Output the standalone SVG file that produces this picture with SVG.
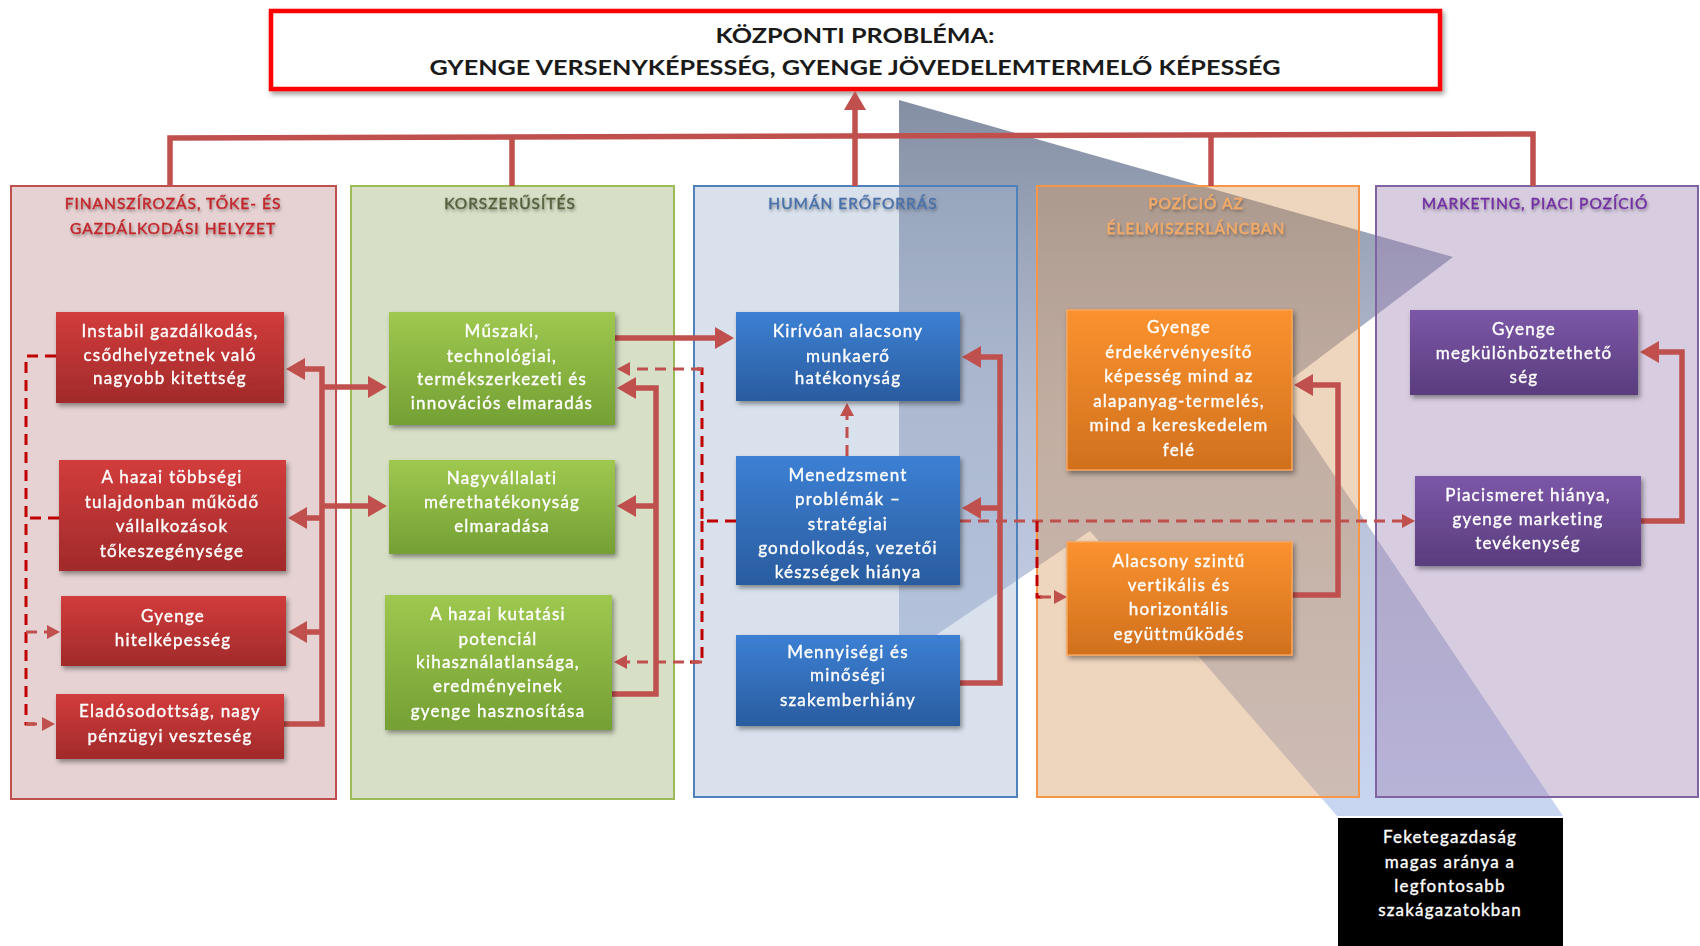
<svg xmlns="http://www.w3.org/2000/svg" width="1700" height="946" viewBox="0 0 1700 946">
<style>
.pan{stroke-width:2;fill-opacity:0.4}
.tt{font-family:Lato,"Liberation Sans",sans-serif;font-size:15.5px;text-anchor:middle;letter-spacing:1px;stroke-width:0.45px}
.nt{font-family:Lato,"Liberation Sans",sans-serif;font-size:17px;fill:#fff;stroke:#fff;stroke-width:0.35px;text-anchor:middle;letter-spacing:1.2px}
.c{fill:none;stroke:#c0504d;stroke-width:5.5;stroke-linejoin:miter}
.ca{fill:none;stroke:#c0504d;stroke-width:5.5;marker-end:url(#ah)}
.d{fill:none;stroke:#c0504d;stroke-width:3;stroke-dasharray:11 7}
.dd{fill:none;stroke:#c00000;stroke-width:3;stroke-dasharray:11 7}
.da{marker-end:url(#ahd)}
</style>
<defs>
<marker id="ah" markerUnits="userSpaceOnUse" markerWidth="20" markerHeight="22" refX="0" refY="11" orient="auto"><path d="M0,0 L19,11 L0,22 z" fill="#c0504d"/></marker>
<marker id="ahd" markerUnits="userSpaceOnUse" markerWidth="14" markerHeight="14" refX="0" refY="7" orient="auto"><path d="M0,0 L13,7 L0,14 z" fill="#c0504d"/></marker>
<linearGradient id="gR" x1="0" y1="0" x2="0" y2="1"><stop offset="0" stop-color="#d23c3c"/><stop offset="1" stop-color="#a12a2a"/></linearGradient>
<linearGradient id="gG" x1="0" y1="0" x2="0" y2="1"><stop offset="0" stop-color="#9ec84f"/><stop offset="1" stop-color="#74a034"/></linearGradient>
<linearGradient id="gB" x1="0" y1="0" x2="0" y2="1"><stop offset="0" stop-color="#3c80d4"/><stop offset="1" stop-color="#2a5c9f"/></linearGradient>
<linearGradient id="gO" x1="0" y1="0" x2="0" y2="1"><stop offset="0" stop-color="#fb922f"/><stop offset="1" stop-color="#d0701e"/></linearGradient>
<linearGradient id="gP" x1="0" y1="0" x2="0" y2="1"><stop offset="0" stop-color="#7c57a8"/><stop offset="1" stop-color="#5a3c7d"/></linearGradient>
<linearGradient id="gS" gradientUnits="userSpaceOnUse" x1="0" y1="100" x2="0" y2="816"><stop offset="0" stop-color="#4a5a78" stop-opacity="0.68"/><stop offset="0.45" stop-color="#7a88ac" stop-opacity="0.55"/><stop offset="1" stop-color="#9db5e8" stop-opacity="0.55"/></linearGradient>
<filter id="ts" x="-10%" y="-50%" width="120%" height="200%"><feDropShadow dx="1" dy="2" stdDeviation="1.5" flood-color="#000" flood-opacity="0.35"/></filter>
<filter id="ns" x="-10%" y="-10%" width="125%" height="135%"><feDropShadow dx="2" dy="3" stdDeviation="2.5" flood-color="#000" flood-opacity="0.4"/></filter>
</defs>
<rect width="1700" height="946" fill="#fff"/>

<polygon id="shade" points="899,100 1453,257 1277,390 1563,816 1337,816 1090,531 899,660" fill="url(#gS)"/>

<g id="panels">
<rect class="pan" x="11" y="186" width="325" height="613" fill="#c08e8e" stroke="#c0504d"/>
<rect class="pan" x="351" y="186" width="323" height="613" fill="#9bb170" stroke="#9bbb59"/>
<rect class="pan" x="694" y="186" width="323" height="611" fill="#a0b4cf" stroke="#4f81bd"/>
<rect class="pan" x="1037" y="186" width="322" height="611" fill="#d4965a" stroke="#f79646"/>
<rect class="pan" x="1376" y="186" width="322" height="611" fill="#9d7fb1" stroke="#8064a2"/>
<g filter="url(#ts)">
<text class="tt" x="173" y="209" fill="#c0282d" stroke="#c0282d">FINANSZÍROZÁS, TŐKE- ÉS</text>
<text class="tt" x="173" y="234" fill="#c0282d" stroke="#c0282d">GAZDÁLKODÁSI HELYZET</text>
<text class="tt" x="510" y="209" fill="#54613f" stroke="#54613f">KORSZERŰSÍTÉS</text>
<text class="tt" x="853" y="209" fill="#4a70a8" stroke="#4a70a8">HUMÁN ERŐFORRÁS</text>
<text class="tt" x="1196" y="209" fill="#f2aa68" stroke="#f2aa68">POZÍCIÓ AZ</text>
<text class="tt" x="1196" y="234" fill="#f2aa68" stroke="#f2aa68">ÉLELMISZERLÁNCBAN</text>
<text class="tt" x="1535" y="209" fill="#7030a0" stroke="#7030a0">MARKETING, PIACI POZÍCIÓ</text>
</g>
</g>

<g id="top">
<rect x="271" y="11" width="1169" height="78" fill="#fff" stroke="#ff0000" stroke-width="4.5" filter="url(#ns)"/>
<text x="855" y="43" font-family="Lato,'Liberation Sans',sans-serif" font-size="21" font-weight="bold" fill="#1a1a1a" text-anchor="middle" textLength="279" lengthAdjust="spacingAndGlyphs">KÖZPONTI PROBLÉMA:</text>
<text x="855" y="75" font-family="Lato,'Liberation Sans',sans-serif" font-size="21" font-weight="bold" fill="#1a1a1a" text-anchor="middle" textLength="851" lengthAdjust="spacingAndGlyphs">GYENGE VERSENYKÉPESSÉG, GYENGE JÖVEDELEMTERMELŐ KÉPESSÉG</text>
</g>

<g id="connectors">
<path class="c" d="M170,186 V138 L1533,134 V186"/>
<path class="c" d="M512,137 V186"/>
<path class="c" d="M1211,134.5 V186"/>
<path class="ca" d="M855,186 V110"/>
<path class="ca" d="M284,724 H322 V369 H305"/>
<path class="ca" d="M322,518 H307"/>
<path class="ca" d="M322,632 H307"/>
<path class="ca" d="M322,387 H368"/>
<path class="ca" d="M322,506 H368"/>
<path class="ca" d="M612,694 H656 V388 H636"/>
<path class="ca" d="M656,506 H636"/>
<path class="ca" d="M615,338 H715"/>
<path class="ca" d="M960,683 H1000 V357 H981"/>
<path class="ca" d="M1000,508 H981"/>
<path class="ca" d="M1292,595 H1338 V385 H1313"/>
<path class="ca" d="M1641,521 H1682 V352 H1659"/>
<path class="dd" d="M56,356 H26 V724 H42"/>
<path class="dd" d="M59,518 H26"/>
<path class="d da" d="M26,724 H42"/>
<path class="d da" d="M26,632 H47"/>
<path class="dd" d="M736,521 H702 V369 H690"/>
<path class="dd" d="M702,521 V662 H690"/>
<path class="d da" d="M702,369 H630"/>
<path class="d da" d="M702,662 H627"/>
<path class="d da" d="M847,456 V416"/>
<path class="d da" d="M960,521 H1402"/>
<path class="dd" d="M1037,521 V597 H1042"/>
<path class="d da" d="M1040,597 H1054"/>
</g>

<g id="R1" filter="url(#ns)"><rect x="56" y="312" width="228" height="91" fill="url(#gR)"/>
<text class="nt" x="170" y="337">Instabil gazdálkodás,</text><text class="nt" x="170" y="361">csődhelyzetnek való</text><text class="nt" x="170" y="384">nagyobb kitettség</text></g>
<g id="R2" filter="url(#ns)"><rect x="59" y="460" width="227" height="111" fill="url(#gR)"/>
<text class="nt" x="172" y="483">A hazai többségi</text><text class="nt" x="172" y="508">tulajdonban működő</text><text class="nt" x="172" y="532">vállalkozások</text><text class="nt" x="172" y="557">tőkeszegénysége</text></g>
<g id="R3" filter="url(#ns)"><rect x="61" y="596" width="225" height="70" fill="url(#gR)"/>
<text class="nt" x="173" y="622">Gyenge</text><text class="nt" x="173" y="646">hitelképesség</text></g>
<g id="R4" filter="url(#ns)"><rect x="56" y="694" width="228" height="65" fill="url(#gR)"/>
<text class="nt" x="170" y="717">Eladósodottság, nagy</text><text class="nt" x="170" y="742">pénzügyi veszteség</text></g>

<g id="G1" filter="url(#ns)"><rect x="389" y="312" width="226" height="113" fill="url(#gG)"/>
<text class="nt" x="502" y="337">Műszaki,</text><text class="nt" x="502" y="362">technológiai,</text><text class="nt" x="502" y="385">termékszerkezeti és</text><text class="nt" x="502" y="409">innovációs elmaradás</text></g>
<g id="G2" filter="url(#ns)"><rect x="389" y="460" width="226" height="94" fill="url(#gG)"/>
<text class="nt" x="502" y="484">Nagyvállalati</text><text class="nt" x="502" y="508">mérethatékonyság</text><text class="nt" x="502" y="532">elmaradása</text></g>
<g id="G3" filter="url(#ns)"><rect x="385" y="595" width="227" height="135" fill="url(#gG)"/>
<text class="nt" x="498" y="620">A hazai kutatási</text><text class="nt" x="498" y="645">potenciál</text><text class="nt" x="498" y="668">kihasználatlansága,</text><text class="nt" x="498" y="692">eredményeinek</text><text class="nt" x="498" y="717">gyenge hasznosítása</text></g>

<g id="B1" filter="url(#ns)"><rect x="736" y="312" width="224" height="89" fill="url(#gB)"/>
<text class="nt" x="848" y="337">Kirívóan alacsony</text><text class="nt" x="848" y="362">munkaerő</text><text class="nt" x="848" y="384">hatékonyság</text></g>
<g id="B2" filter="url(#ns)"><rect x="736" y="456" width="224" height="129" fill="url(#gB)"/>
<text class="nt" x="848" y="481">Menedzsment</text><text class="nt" x="848" y="505">problémák –</text><text class="nt" x="848" y="530">stratégiai</text><text class="nt" x="848" y="554">gondolkodás, vezetői</text><text class="nt" x="848" y="578">készségek hiánya</text></g>
<g id="B3" filter="url(#ns)"><rect x="736" y="635" width="224" height="91" fill="url(#gB)"/>
<text class="nt" x="848" y="658">Mennyiségi és</text><text class="nt" x="848" y="681">minőségi</text><text class="nt" x="848" y="706">szakemberhiány</text></g>

<g id="O1" filter="url(#ns)"><rect x="1067" y="310" width="225" height="160" fill="url(#gO)" stroke="#f8a55a" stroke-width="1.5"/>
<text class="nt" x="1179" y="333">Gyenge</text><text class="nt" x="1179" y="358">érdekérvényesítő</text><text class="nt" x="1179" y="382">képesség mind az</text><text class="nt" x="1179" y="407">alapanyag-termelés,</text><text class="nt" x="1179" y="431">mind a kereskedelem</text><text class="nt" x="1179" y="456">felé</text></g>
<g id="O2" filter="url(#ns)"><rect x="1067" y="542" width="225" height="113" fill="url(#gO)" stroke="#f8a55a" stroke-width="1.5"/>
<text class="nt" x="1179" y="567">Alacsony szintű</text><text class="nt" x="1179" y="591">vertikális és</text><text class="nt" x="1179" y="615">horizontális</text><text class="nt" x="1179" y="640">együttműködés</text></g>

<g id="P1" filter="url(#ns)"><rect x="1410" y="310" width="228" height="85" fill="url(#gP)"/>
<text class="nt" x="1524" y="335">Gyenge</text><text class="nt" x="1524" y="359">megkülönböztethető</text><text class="nt" x="1524" y="383">ség</text></g>
<g id="P2" filter="url(#ns)"><rect x="1415" y="476" width="226" height="90" fill="url(#gP)"/>
<text class="nt" x="1528" y="501">Piacismeret hiánya,</text><text class="nt" x="1528" y="525">gyenge marketing</text><text class="nt" x="1528" y="549">tevékenység</text></g>

<g id="K"><rect x="1338" y="818" width="225" height="128" fill="#000"/>
<text class="nt" x="1450" y="843">Feketegazdaság</text><text class="nt" x="1450" y="868">magas aránya a</text><text class="nt" x="1450" y="892">legfontosabb</text><text class="nt" x="1450" y="916">szakágazatokban</text></g>
</svg>
